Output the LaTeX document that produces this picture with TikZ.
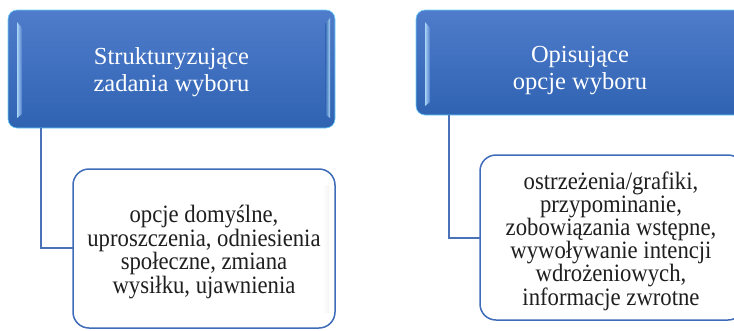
\documentclass[tikz,border=0pt]{standalone}
\usepackage{fontspec}
\setmainfont{Liberation Serif}
% narrowed serif for the tightly set item texts
\newfontfamily\narrowserif[FakeStretch=0.908]{Liberation Serif}
\begin{document}
\begin{tikzpicture}[x=1pt,y=-1pt,
  headbox/.style={draw=white!70!blue!60!cyan, line width=0.6pt, rounded corners=9pt,
    top color=headtop, bottom color=headbot},
  itembox/.style={draw=itemline, line width=1.5pt, rounded corners=16pt, fill=white},
  headtext/.style={text=white, align=center, font=\fontsize{24.5}{27}\selectfont},
  itemtext/.style={text=black!88, align=center},
  link/.style={draw=linkcol, line width=1.5pt},
  sheen/.style={left color=white, right color=black!4, draw=none}]
\definecolor{headtop}{HTML}{4F7CCB}
\definecolor{headbot}{HTML}{2F63B2}
\definecolor{glosscol}{HTML}{A8D4F5}
\definecolor{itemline}{HTML}{3E6CB8}
\definecolor{linkcol}{HTML}{4A72B8}
\useasboundingbox (0,0) rectangle (734,330);

% heading boxes
\path[headbox] (8,10) rectangle (335,128);
\path[left color=glosscol, right color=headtop] (17,22) -- (22,28) -- (22,114) -- (17,118) -- cycle;
\path[left color=headbot, right color=glosscol] (325,24) -- (330,18) -- (330,118) -- (325,114) -- cycle;
\node[headtext] (h1) at (171.5,72) {Strukturyzujące\\zadania wyboru};

\path[headbox] (416,10) rectangle (744,115);
\path[left color=glosscol, right color=headtop] (425,22) -- (430,28) -- (430,102) -- (425,106) -- cycle;
\node[headtext] (h2) at (580,71) {Opisujące\\opcje wyboru};

% item boxes
\path[itembox] (73,169) rectangle (335,328);
\path[sheen] (322,185) rectangle (329,312);
\node[itemtext, font=\narrowserif\fontsize{25}{21.8}\selectfont] (i1) at (204,252)
  {opcje domyślne,\\uproszczenia, odniesienia\\społeczne, zmiana\\wysiłku, ujawnienia};

\path[itembox] (480,155) rectangle (744,320);
\node[itemtext, font=\narrowserif\fontsize{25}{23.2}\selectfont] (i2) at (611,241)
  {ostrzeżenia/grafiki,\\przypominanie,\\zobowiązania wstępne,\\wywoływanie intencji\\wdrożeniowych,\\informacje zwrotne};

% connectors
\coordinate (c1) at (41,128);
\coordinate (e1) at (73,248);
\draw[link] (c1) |- (e1);
\coordinate (c2) at (449,115);
\coordinate (e2) at (480,238);
\draw[link] (c2) |- (e2);
\end{tikzpicture}
\end{document}
